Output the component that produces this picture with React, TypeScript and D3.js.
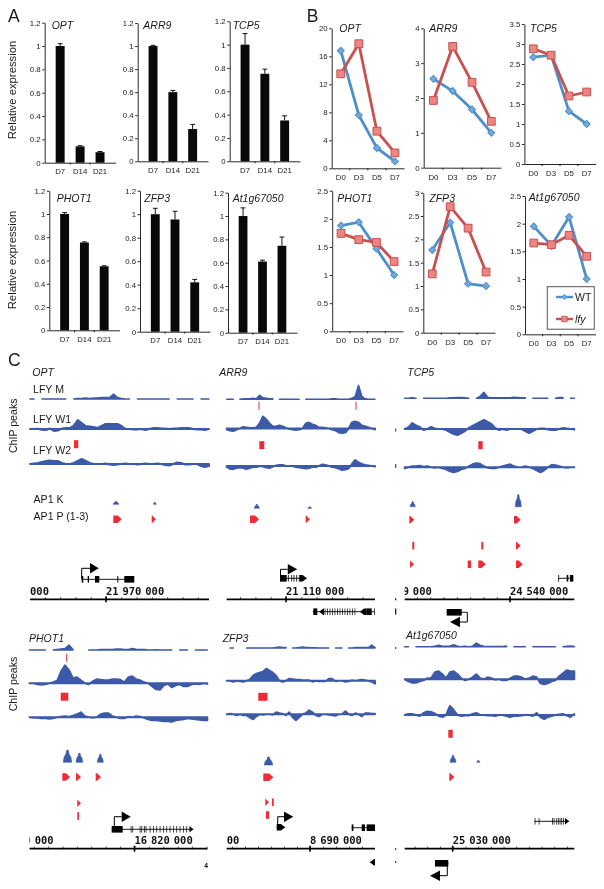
import * as d3 from "d3";
import { useEffect, useRef } from "react";

const WIDTH = 604;
const HEIGHT = 889;
const FONT = "'Liberation Sans', Arial, sans-serif";
const MONO = "'DejaVu Sans Mono', monospace";
const BLUE = "#3d5aa8";
const RED = "#ee2b36";
const WT_COLOR = "#4f8fc8";
const LFY_COLOR = "#c9504e";

// A: qPCR bars
const barDays = ["D7", "D14", "D21"];
const barTicks = [0, 0.2, 0.4, 0.6, 0.8, 1, 1.2];
const optBars = [1, 0.14, 0.09];
const optErr = [0.02, 0.006, 0.006];
const arr9Bars = [1, 0.6, 0.28];
const arr9Err = [0.006, 0.015, 0.04];
const tcp5Bars = [1, 0.75, 0.35];
const tcp5Err = [0.095, 0.04, 0.04];
const phot1Bars = [1, 0.755, 0.55];
const phot1Err = [0.012, 0.005, 0.005];
const zfp3Bars = [1, 0.955, 0.42];
const zfp3Err = [0.05, 0.07, 0.025];
const at1gBars = [1, 0.61, 0.745];
const at1gErr = [0.07, 0.012, 0.075];

// B: time course WT vs lfy
const lineDays = ["D0", "D3", "D5", "D7"];
const optWT = [16.8, 7.6, 2.9, 1];
const optLfy = [13.5, 17.8, 5.3, 2.2];
const arr9WT = [2.55, 2.2, 1.67, 1];
const arr9Lfy = [1.93, 3.48, 2.45, 1.33];
const tcp5WT = [2.67, 2.72, 1.32, 1];
const tcp5Lfy = [2.88, 2.72, 1.7, 1.8];
const phot1WT = [1.88, 1.94, 1.47, 1];
const phot1Lfy = [1.74, 1.63, 1.58, 1.24];
const zfp3WT = [1.77, 2.36, 1.05, 1];
const zfp3Lfy = [1.26, 2.7, 2.24, 1.3];
const at1gWT = [1.95, 1.6, 2.12, 1];
const at1gLfy = [1.65, 1.62, 1.79, 1.41];

// C: ChIP signal, 46 bins per window, null = no data
const optM = [0,0,null,0,0,0,0,0,0,0, null,0,.5,.5,1,.5,1,1,1.5,1.5, 1.5,5,1.5,.5,0,0,null,0,0,0, 0,0,0,0,0,0,null,0,0,0, 0,0,null,0,0,0];
const optW1 = [0,0,.3,-.8,-1,.5,-2,-1.5,.5,1, 1,3.5,9,6,3,2.5,2,1,3,5, 5,5,5,3,0,0,-.5,-.5,0,-1, 0,1,1,.5,.5,0,.5,.5,1,1, 1,0,-.5,-.5,-1,0];
const optW2 = [0,.5,1,2,3,3.5,3,3,1,0, 0,1,3,5,3,1,0,0,0,.5, -.5,-1,-.5,0,.5,0,0,-.5,0,.5, 0,0,.5,0,-1,-1.5,0,1.5,1,-.5, -.5,0,0,-2,-3,-2];
const arr9M = [0,0,0,null,0,.5,.5,.5,1,.5, 4,1.5,1,.5,.5,null,0,0,0,0, 0,0,0,null,0,0,0,0,0,0, 0,0,.5,.5,0,0,0,0,1,3, 14,3,.5,0,0,0];
const arr9W1 = [-1,-2,-2.5,-1,0,1.5,1,.5,.5,1, 5,12,9,5,2,2,3,2,.5,-.5, -1,-1.5,-1,0,5,6,4,3,1,1, .5,0,-1,-2,-4,-4.5,-4,0,6,7, 6,3,2,1,0,-1];
const arr9W2 = [-1,-3,-3,-2,-1.5,-2,-3,-2,-1,-1, 0,-.5,-1.5,-2,-.5,.5,1,1,0,0, 0,-1,-1.5,-2,-2.5,-2,-1,-1,0,1.5, 1,0,-1,-1.5,-2.5,-4,-3.5,-2.5,2,6, 3.5,2,1,.5,0,-.5];
const tcp5M = [0,0,.5,0,null,0,0,0,0,0, 0,0,.5,.5,.8,.8,.5,0,null,0, 2,6,1,.5,.5,.5,.5,.5,.5,1, .8,.5,.5,null,0,0,0,0,0,null, 0,.8,.8,null,0,0];
const tcp5W1 = [0,1.5,6,3.5,2,-1,0,2,.5,0, 0,-1,-3,-5,-6,-4,-2,1,3,5, 7,9,7,5,1,-1,0,-1,0,0, 0,0,-2,-4,-2,0,.5,.5,-.5,-1, -1,0,1,.5,0,-.5];
const tcp5W2 = [-1,0,1,1,1.5,.5,1,0,-.5,0, -1,-2,-4,-5,-4,-2,-1,1,3,4, 3.5,1,-.5,-1,-1,0,1,2,3,1, 0,0,1,0,-1,-3,-5,-3,0,2.5, 2,1,0,-.5,0,0];
const phot1M = [0,0,0,0,0,null,0,.5,1,1.5, 5,.5,null,null,null,0,0,0,.5,.5, .5,.5,1,1,.5,.5,1.5,.8,.5,.5, 0,0,.3,0,0,0,0,null,0,0, 0,null,0,0,0,0];
const phot1W1 = [0,0,-1,-1.5,-1,0,1,2.5,12,18, 13,5,6,3,0,-1,2,4,3.5,3, 3,4,4,3.5,1,6,7,4,3,1, 0,-3,-6,-6.5,-2,-.5,-4,-2,-1,-3, -3,-1,-.5,-1,0,-.5];
const phot1W2 = [0,-.5,-.5,-1,-1,-1.5,-1,0,.5,1, .5,1.5,3,5,1,0,-.5,0,3,4, 4,1,0,-1,-1,.5,0,1,.5,-.5, -2,-3,-3,-3.5,-4,-4,-4.5,-3,-2.5,-2, -1,-1.5,-2,-2.5,-3,-3];
const zfp3M = [null,0,0,null,null,null,0,0,0,0, 0,0,0,0,0,.5,1,.5,.5,null, 0,0,.5,1,.5,.5,.3,.3,0,0, 0,0,null,0,0,0,null,0,0,.5, .5,.5,.5,.5,3,.5];
const zfp3W1 = [0,0,-1,0,-.5,-1,0,1,5,7, 8,9,12,10,8,5,0,-1,0,2, 1.5,1,1,.5,.5,.5,-1,0,-.5,-.5, -.5,2,2,-.5,0,0,-1,-.5,.5,0, .5,1,.5,0,-1,-3];
const zfp3W2 = [0,.5,0,-1,0,-1,-1,-3,-5,-2, 0,-.5,0,0,-.5,2,1,.5,-1,2, -3,-6,-3,0,1,4,2,-1,-2,0, 0,-.5,-1,-1.5,0,0,3,0,-1,1, 0,-2,1,1,.5,.5];
const at1gM = [0,0,null,0,0,0,0,0,.5,1.5, .5,.5,.8,2,.5,0,.5,0,.5,3.5, 1.5,.5,.3,.3,.3,.3,.3,.8,null,0, 0,0,0,null,0,0,0,0,0,0, 0,null,0,.5,.8,.3];
const at1gW1 = [0,-2,-3.5,-3.5,-2,-1,1,1,7,8, 5,1,7,8,5,1,-1,0,2,5, 1,0,2,1,-.5,0,-1,-1,1,3, 3,2,0,1,3,2,-4,-5,-4,-2, -1,3,6,9,8,8];
const at1gW2 = [0,1,1,0,-1,2,3.5,3,1.5,-1, -2,0,9,5,0,-1,-.5,-.5,1,2, 0,0,-.5,-.5,-1,0,0,-1,-2,-1, -1,-.5,0,0,-1,2,-2,-4,-2,-1, 0,.5,1,-.5,-2,1];

// bound regions, [start, end] along each window
const optPeaks = [[44, 48.3]];
const arr9Peaks = [[32.6, 37.6]];
const tcp5Peaks = [[73.6, 78]];
const phot1Peaks = [[31.2, 38.8]];
const zfp3Peaks = [[31.6, 40.6]];
const at1gPeaks = [[43.6, 48]];
const arr9Summits = [32.3, 129.3];
const phot1Summits = [37.2];

// AP1 K, [start, end, height]
const optK = [[83.3, 88.7, 3], [123.3, 126.3, 2]];
const arr9K = [[27.6, 32.6, 4], [81, 85, 1.5]];
const tcp5K = [[5.5, 10.5, 5], [110.6, 116.6, 12]];
const phot1K = [[33.8, 42.2, 12], [46.5, 53.2, 9], [67.8, 73.8, 8]];
const zfp3K = [[37.6, 46, 8]];
const at1gK = [[45.3, 51.3, 7], [72, 75.3, 2]];

// AP1 P (1-3), [start, end, isBar]
const optP = [[[83.3, 91.7], [121.7, 126]]];
const arr9P = [[[23.3, 32.3], [79, 83.3]]];
const tcp5P = [
  [[4.6, 9.6], [109.3, 116]],
  [[7.6, 9.6, 1], [76.6, 78.6, 1], [111.3, 116]],
  [[5.3, 9.3], [63, 66.3, 1], [73.6, 81], [111.3, 118]],
];
const phot1P = [
  [[32.8, 40.5], [46.5, 51.5], [66.2, 71.5]],
  [[47.8, 51.5]],
  [[47.8, 49.5, 1]],
];
const zfp3P = [
  [[36.6, 46.6]],
  [[38.6, 42.3], [45.3, 47, 1]],
  [[39.3, 42.3, 1]],
];
const at1gP = [[[44.6, 49.6]]];

// gene models along each window
const optGenes = [
  { span: [51.7, 103.3], exons: [[51.7, 53.3], [57.7, 59], [65, 69.3], [87.3, 88.3], [94.3, 104.3]], row: 579.3, tss: { at: 51.7, rise: 11, stem: 8.3, head: 8.7, dir: 1 } },
];
const arr9Genes = [
  { span: [53.3, 80], exons: [[53.3, 60], [61.2, 62], [64.6, 65.4], [66.9, 67.7], [69.6, 70.4], [72.2, 73]], tip: [73, 80, 1], row: 578.3, tss: { at: 53.8, rise: 9, stem: 7.3, head: 9.4, dir: 1 } },
  { span: [86, 148], exons: [[86.6, 90.6], [98, 98.7], [100.4, 101.1], [102.9, 103.6], [105.4, 106.1], [107.9, 108.6], [110.4, 111.1], [112.9, 113.6], [115.4, 116.1], [117.9, 118.6], [120.4, 121.1], [122.9, 123.6], [125.4, 126.1], [127.9, 128.6], [140, 145], [147.6, 148.3]], tip: [97.3, 92.6, -1], tip2: [140, 133.3, -1], row: 611.7 },
];
const tcp5Genes = [
  { span: [153.6, 168.6], exons: [[153.6, 154.4], [162, 163.6], [165.3, 168.6]], row: 578.3 },
  { span: [42, 62.6], exons: [[42, 57]], row: 612.3, tss: { at: 62.6, rise: -9.7, stem: 7.3, head: 10, dir: -1 } },
];
const phot1Genes = [
  { span: [82.2, 163.8], exons: [[82.2, 93.2], [101.2, 101.9], [102.9, 103.6], [110.2, 110.9], [111.9, 112.6], [114.4, 115.2], [116.2, 116.9], [120.2, 120.9], [123.5, 124.2], [126.9, 127.6], [130.2, 130.9], [133.5, 134.2], [136.9, 137.6], [140.2, 140.9], [143.5, 144.2], [146.9, 147.6], [150.2, 150.9], [153.5, 154.2], [156.9, 157.6]], tip: [160, 163.8, 1], row: 829.3, tss: { at: 84.8, rise: 12.6, stem: 7.4, head: 9, dir: 1 } },
];
const zfp3Genes = [
  { span: [50, 58.3], exons: [], tip: [50, 58.3, 1], row: 827.3, tss: { at: 51, rise: 10.6, stem: 6.3, head: 9.3, dir: 1 } },
  { span: [125, 148.3], exons: [[125, 126.7], [135, 138.3], [140, 148.3]], row: 827.7 },
  { span: [143.3, 148.3], exons: [], tip: [148.3, 143.3, -1], row: 862.3 },
];
const at1gGenes = [
  { span: [129.6, 164.3], exons: [[130, 130.7], [134, 134.7], [147.3, 148], [149, 149.7], [151.7, 152.4], [153.3, 154], [155, 155.7], [156.7, 157.4], [158.3, 159]], tip: [160.3, 164.3, 1], row: 821.3 },
  { span: [30.3, 43.6], exons: [[30.3, 43.6]], row: 863.3, tss: { at: 42.6, rise: -12.4, stem: 7.3, head: 10, dir: -1 } },
];

// panel layout tables
const barPanels = [
  { name: "OPT", x: [44.7, 115.5], y: [162.7, 22.7], nameAt: [51.7, 29.3], values: optBars, err: optErr },
  { name: "ARR9", x: [137.7, 208], y: [161.3, 23], nameAt: [143.3, 29.3], values: arr9Bars, err: arr9Err },
  { name: "TCP5", x: [229.7, 300], y: [161.3, 21.3], nameAt: [232.7, 29.3], values: tcp5Bars, err: tcp5Err },
  { name: "PHOT1", x: [49.3, 119.5], y: [330.3, 190.7], nameAt: [56.7, 201.7], values: phot1Bars, err: phot1Err },
  { name: "ZFP3", x: [140, 210], y: [331.7, 190.7], nameAt: [144.3, 201.7], values: zfp3Bars, err: zfp3Err },
  { name: "At1g67050", x: [228, 297], y: [332.7, 192.7], nameAt: [232.7, 201.7], values: at1gBars, err: at1gErr },
];

const linePanels = [
  { name: "OPT", x: [331.7, 404], y: [168.3, 28.3], max: 20, ticks: [0, 4, 8, 12, 16, 20], nameAt: [339.3, 32.3], wt: optWT, lfy: optLfy },
  { name: "ARR9", x: [423.7, 501], y: [167.7, 28.3], max: 4, ticks: [0, 1, 2, 3, 4], nameAt: [429.3, 32.3], wt: arr9WT, lfy: arr9Lfy },
  { name: "TCP5", x: [524.4, 595.6], y: [164, 24], max: 3.5, ticks: [0, 0.5, 1, 1.5, 2, 2.5, 3, 3.5], nameAt: [530, 32.3], wt: tcp5WT, lfy: tcp5Lfy },
  { name: "PHOT1", x: [332.2, 403], y: [331.3, 190.7], max: 2.5, ticks: [0, 0.5, 1, 1.5, 2, 2.5], nameAt: [337.3, 201.7], wt: phot1WT, lfy: phot1Lfy },
  { name: "ZFP3", x: [423.3, 495], y: [332.7, 192.7], max: 3, ticks: [0, 0.5, 1, 1.5, 2, 2.5, 3], nameAt: [429.3, 201.7], wt: zfp3WT, lfy: zfp3Lfy },
  { name: "At1g67050", x: [525, 595.5], y: [334.3, 196], max: 2.5, ticks: [0, 0.5, 1, 1.5, 2, 2.5], nameAt: [528.7, 200.7], wt: at1gWT, lfy: at1gLfy },
];

const genomePanels = [
  { name: "OPT", x: [30, 209], nameAt: [32.3, 376], tracks: [[399, optM], [429, optW1], [464, optW2]], peaks: optPeaks, peakY: 444.2, summits: [], kBase: 504.3, k: optK, p: optP, pRows: [519.3, 545.7, 564.3], genes: optGenes, axisY: 599.3, major: 76, step: 15.3, labels: [[76, "21 970 000"], [0, "000"]] },
  { name: "ARR9", x: [226.7, 375], nameAt: [219.3, 376], tracks: [[399.3, arr9M], [428.5, arr9W1], [466, arr9W2]], peaks: arr9Peaks, peakY: 445.2, summits: arr9Summits, summitY: 405.8, kBase: 508.3, k: arr9K, p: arr9P, pRows: [519.3, 545.7, 564.3], genes: arr9Genes, axisY: 599.3, major: 59.3, step: 15.3, labels: [[59.3, "21 110 000"]] },
  { name: "TCP5", x: [404.7, 574.3], nameAt: [407.3, 376], tracks: [[398.3, tcp5M], [429, tcp5W1], [467.3, tcp5W2]], peaks: tcp5Peaks, peakY: 445.2, summits: [], kBase: 506.7, k: tcp5K, p: tcp5P, pRows: [519.7, 545.7, 564.3], genes: tcp5Genes, axisY: 599.3, major: 105.3, step: 13.3, labels: [[105.3, "24 540 000"], [-2, "9 000"]] },
  { name: "PHOT1", x: [29.5, 207.3], nameAt: [29, 642], tracks: [[650, phot1M], [683.3, phot1W1], [717.3, phot1W2]], peaks: phot1Peaks, peakY: 696.7, summits: phot1Summits, summitY: 657.8, kBase: 762.3, k: phot1K, p: phot1P, pRows: [777, 803.3, 816], genes: phot1Genes, axisY: 848.7, major: 105, step: 14.4, labels: [[105, "16 820 000"], [-5, "0 000"]] },
  { name: "ZFP3", x: [226.7, 375], nameAt: [222.7, 642], tracks: [[648, zfp3M], [680.7, zfp3W1], [714.3, zfp3W2]], peaks: zfp3Peaks, peakY: 696.8, summits: [], kBase: 765, k: zfp3K, p: zfp3P, pRows: [777.3, 802.3, 815], genes: zfp3Genes, axisY: 848.7, major: 83.3, step: 13, labels: [[83.3, "8 690 000"], [0, "00"]] },
  { name: "At1g67050", x: [404.7, 574.3], nameAt: [406, 639], tracks: [[646.7, at1gM], [679.3, at1gW1], [715, at1gW2]], peaks: at1gPeaks, peakY: 733.8, summits: [], kBase: 762.3, k: at1gK, p: at1gP, pRows: [777, 803, 816], genes: at1gGenes, axisY: 848.7, major: 48, step: 12.7, labels: [[48, "25 030 000"]] },
];

const trackLabels = [
  ["LFY M", 33, 393],
  ["LFY W1", 33, 422.7],
  ["LFY W2", 33, 454],
  ["AP1 K", 33.5, 503.3],
  ["AP1 P (1-3)", 33.5, 520],
];

// tiny clipped bits of the neighbouring window
const edgeSpecks = [[430, 3], [466, 4], [599.3, 2], [611.5, 6], [648, 1.5], [849, 1.5], [862, 1.5]];

type Sel = d3.Selection<any, unknown, null, undefined>;

function addText(g: Sel, s: string, x: number, y: number, size: number, italic = false) {
  return g
    .append("text")
    .attr("x", x)
    .attr("y", y)
    .attr("font-family", FONT)
    .attr("font-size", size)
    .attr("font-style", italic ? "italic" : "normal")
    .attr("fill", "#1a1a1a")
    .text(s);
}

function styleAxis(g: Sel) {
  g.selectAll("text").attr("font-family", FONT).attr("font-size", 7.8).attr("fill", "#222");
  g.selectAll("path,line").attr("stroke", "#111").attr("stroke-width", 0.9);
}

function drawBars(svg: Sel) {
  barPanels.forEach((p) => {
    const x = d3.scaleBand().domain(barDays).range(p.x as [number, number]).padding(0.55);
    const y = d3.scaleLinear().domain([0, 1.2]).range(p.y as [number, number]);
    const g = svg.append("g");

    p.values.forEach((v, i) => {
      const cx = x(barDays[i])! + x.bandwidth() / 2;
      const top = y(v + p.err[i]);
      g.append("path")
        .attr("d", `M${cx},${y(v)}V${top}M${cx - 2.4},${top}H${cx + 2.4}`)
        .attr("stroke", "#111")
        .attr("fill", "none");
      g.append("rect")
        .attr("x", x(barDays[i])!)
        .attr("y", y(v))
        .attr("width", x.bandwidth())
        .attr("height", y(0) - y(v))
        .attr("fill", "#080808");
    });

    const yAxis = d3.axisLeft(y).tickValues(barTicks).tickFormat(d3.format("~g") as any).tickSize(2.5).tickPadding(1.5).tickSizeOuter(0);
    g.append("g").attr("transform", `translate(${p.x[0]},0)`).call(yAxis).call(styleAxis);
    const xAxis = d3.axisBottom(x).tickSize(0).tickPadding(6);
    g.append("g").attr("transform", `translate(0,${p.y[0]})`).call(xAxis).call(styleAxis);
    // small marks between the categories
    barDays.slice(1).forEach((d) => {
      const bx = x(d)! - (x.step() - x.bandwidth()) / 2;
      g.append("line").attr("x1", bx).attr("x2", bx).attr("y1", p.y[0]).attr("y2", p.y[0] + 2).attr("stroke", "#111").attr("stroke-width", 0.9);
    });

    addText(g, p.name, p.nameAt[0], p.nameAt[1], 10.5, true);
  });
}

function drawLines(svg: Sel) {
  linePanels.forEach((p) => {
    const x = d3.scaleBand().domain(lineDays).range(p.x as [number, number]);
    const y = d3.scaleLinear().domain([0, p.max]).range(p.y as [number, number]);
    const g = svg.append("g");
    const cx = (d: string) => x(d)! + x.bandwidth() / 2;

    const yAxis = d3.axisLeft(y).tickValues(p.ticks).tickFormat(d3.format("~g") as any).tickSize(2.5).tickPadding(1.5).tickSizeOuter(0);
    g.append("g").attr("transform", `translate(${p.x[0]},0)`).call(yAxis).call(styleAxis);
    const xAxis = d3.axisBottom(x).tickSize(0).tickPadding(6.5);
    g.append("g").attr("transform", `translate(0,${p.y[0]})`).call(xAxis).call(styleAxis);
    lineDays.slice(1).forEach((d) => {
      g.append("line").attr("x1", x(d)!).attr("x2", x(d)!).attr("y1", p.y[0]).attr("y2", p.y[0] + 2).attr("stroke", "#111").attr("stroke-width", 0.9);
    });

    const line = d3.line<number>().x((_, i) => cx(lineDays[i])).y((v) => y(v));
    // WT is a square turned 45 degrees, the plain d3 diamond is too narrow
    const series = [
      { values: p.wt, color: WT_COLOR, fill: "#74a9dc", size: 24, turn: 45 },
      { values: p.lfy, color: LFY_COLOR, fill: "#ea8583", size: 60, turn: 0 },
    ];
    series.forEach((s) => {
      g.append("path").attr("d", line(s.values)).attr("fill", "none").attr("stroke", s.color).attr("stroke-width", 2.8);
      g.selectAll(null)
        .data(s.values)
        .join("path")
        .attr("d", d3.symbol().type(d3.symbolSquare).size(s.size)() as string)
        .attr("transform", (v, i) => `translate(${cx(lineDays[i])},${y(v as number)}) rotate(${s.turn})`)
        .attr("fill", s.fill)
        .attr("stroke", s.color)
        .attr("stroke-width", 1);
    });

    addText(g, p.name, p.nameAt[0], p.nameAt[1], 10.5, true);
  });
}

function drawLegend(svg: Sel) {
  const g = svg.append("g");
  g.append("rect").attr("x", 547.3).attr("y", 286.7).attr("width", 47).attr("height", 42.5).attr("fill", "#fff").attr("stroke", "#555").attr("stroke-width", 1);
  const items = [
    { label: "WT", y: 297, color: WT_COLOR, fill: "#74a9dc", size: 14, turn: 45, italic: false },
    { label: "lfy", y: 319, color: LFY_COLOR, fill: "#ea8583", size: 30, turn: 0, italic: true },
  ];
  items.forEach((it) => {
    g.append("line").attr("x1", 556).attr("x2", 573).attr("y1", it.y).attr("y2", it.y).attr("stroke", it.color).attr("stroke-width", 2.4);
    g.append("path").attr("d", d3.symbol().type(d3.symbolSquare).size(it.size)() as string).attr("transform", `translate(564.5,${it.y}) rotate(${it.turn})`).attr("fill", it.fill).attr("stroke", it.color).attr("stroke-width", 0.8);
    addText(g, it.label, 575, it.y + 4, 10.5, it.italic);
  });
}

// rectangle ending in a point, used for AP1 P calls and gene ends
function pointedPath(x0: number, x1: number, y: number, h: number) {
  const dir = x1 >= x0 ? 1 : -1;
  const tipLen = Math.min(Math.abs(x1 - x0), 4) * dir;
  const pts: [number, number][] = [
    [x0, y - h / 2],
    [x1 - tipLen, y - h / 2],
    [x1, y],
    [x1 - tipLen, y + h / 2],
    [x0, y + h / 2],
  ];
  return d3.line()(pts) + "Z";
}

function drawGene(g: Sel, x: d3.ScaleLinear<number, number>, gene: any) {
  const y = gene.row;
  g.append("line").attr("x1", x(gene.span[0])).attr("x2", x(gene.span[1])).attr("y1", y).attr("y2", y).attr("stroke", "#000").attr("stroke-width", 0.9);
  gene.exons.forEach((e: number[]) => {
    g.append("rect").attr("x", x(e[0])).attr("y", y - 3.3).attr("width", x(e[1]) - x(e[0])).attr("height", 6.6).attr("fill", "#000");
  });
  [gene.tip, gene.tip2].filter(Boolean).forEach((t: number[]) => {
    g.append("path").attr("d", pointedPath(x(t[0]), x(t[1]), y, 6.6)).attr("fill", "#000");
  });
  if (gene.tss) {
    const t = gene.tss;
    const top = y - t.rise;
    const bendEnd = x(t.at) + t.dir * t.stem;
    g.append("path").attr("d", `M${x(t.at)},${y}V${top}H${bendEnd}`).attr("fill", "none").attr("stroke", "#000").attr("stroke-width", 1);
    g.append("path").attr("d", d3.line()([[bendEnd, top - 5.2], [bendEnd + t.dir * t.head, top], [bendEnd, top + 5.2]]) + "Z").attr("fill", "#000");
  }
}

function drawGenome(svg: Sel) {
  const defs = svg.append("defs");
  genomePanels.forEach((p, pi) => {
    const len = p.x[1] - p.x[0];
    const x = d3.scaleLinear().domain([0, len]).range(p.x as [number, number]);
    const g = svg.append("g");

    addText(g, p.name, p.nameAt[0], p.nameAt[1], 10.5, true);

    // ChIP coverage tracks, one unit = one pixel above the baseline
    p.tracks.forEach(([base, sig]: any, ti) => {
      const y = d3.scaleLinear().domain([0, 10]).range([base, base - 10]);
      const bin = d3.scaleLinear().domain([0, sig.length - 1]).range([0, len]);
      const area = d3
        .area<number | null>()
        .defined((v) => v !== null)
        .x((_, i) => x(bin(i)))
        .y0(y(0))
        .y1((v) => y(v as number));
      g.append("path")
        .attr("d", area(sig))
        .attr("fill", BLUE)
        .attr("stroke", BLUE)
        .attr("stroke-width", ti === 0 ? 1.5 : 2)
        .attr("stroke-linejoin", "round");
    });

    p.peaks.forEach((r) => {
      g.append("rect").attr("x", x(r[0])).attr("y", p.peakY - 4).attr("width", x(r[1]) - x(r[0])).attr("height", 8).attr("fill", RED);
    });
    p.summits.forEach((s) => {
      g.append("rect").attr("x", x(s) - 0.5).attr("y", (p.summitY as number) - 4).attr("width", 1).attr("height", 8).attr("fill", RED);
    });

    // AP1 K bumps
    p.k.forEach(([s, e, h]) => {
      const w = e - s;
      const profile: [number, number][] = [[s, 0], [s + w * 0.1, h * 0.45], [s + w * 0.32, h * 0.7], [s + w * 0.4, h], [s + w * 0.6, h], [s + w * 0.68, h * 0.7], [s + w * 0.9, h * 0.45], [e, 0]];
      const area = d3.area<[number, number]>().x((d) => x(d[0])).y0(p.kBase).y1((d) => p.kBase - d[1]);
      g.append("path").attr("d", area(profile)).attr("fill", BLUE).attr("stroke", BLUE).attr("stroke-width", 0.6);
    });

    // AP1 P calls
    p.p.forEach((row, ri) => {
      (row as number[][]).forEach((c) => {
        const cy = p.pRows[ri];
        if (c[2]) {
          g.append("rect").attr("x", x(c[0])).attr("y", cy - 3.8).attr("width", x(c[1]) - x(c[0])).attr("height", 7.6).attr("fill", RED);
        } else {
          g.append("path").attr("d", pointedPath(x(c[0]), x(c[1]), cy, 7.4)).attr("fill", RED);
        }
      });
    });

    p.genes.forEach((gene) => drawGene(g, x, gene));

    // coordinate ruler
    const clipId = `clip-${pi}`;
    defs.append("clipPath").attr("id", clipId).append("rect").attr("x", p.x[0]).attr("y", 0).attr("width", len).attr("height", HEIGHT);
    const minor = d3.range(p.major % p.step, len, p.step);
    const axis = d3.axisBottom(x).tickValues(minor).tickSize(3).tickFormat(() => "");
    const ag = g.append("g").attr("transform", `translate(0,${p.axisY - 2.2})`).call(axis);
    ag.select(".domain").remove();
    ag.selectAll("line").attr("stroke", "#333").attr("stroke-width", 0.8);
    g.append("line").attr("x1", p.x[0]).attr("x2", p.x[1]).attr("y1", p.axisY).attr("y2", p.axisY).attr("stroke", "#000").attr("stroke-width", 1.7);
    g.append("rect").attr("x", x(p.major) - 0.8).attr("y", p.axisY - 3).attr("width", 1.6).attr("height", 6).attr("fill", "#000");
    p.labels.forEach(([pos, txt]: any) => {
      g.append("text")
        .attr("x", x(pos))
        .attr("y", p.axisY - 4.7)
        .attr("clip-path", `url(#${clipId})`)
        .attr("font-family", MONO)
        .attr("font-weight", "bold")
        .attr("font-size", 10.5)
        .attr("word-spacing", -2.5)
        .attr("fill", "#111")
        .text(txt);
    });
  });

  edgeSpecks.forEach(([y, h]) => {
    svg.append("rect").attr("x", 395).attr("y", y - h / 2).attr("width", 1.3).attr("height", h).attr("fill", y > 590 ? "#222" : BLUE);
  });
  svg.append("text").attr("x", 204).attr("y", 868).attr("font-family", MONO).attr("font-weight", "bold").attr("font-size", 7).attr("fill", "#222").text("4");
}

export default function App() {
  const ref = useRef<SVGSVGElement>(null);

  useEffect(() => {
    const svg = d3.select(ref.current) as unknown as Sel;
    svg.selectAll("*").remove();

    drawBars(svg);
    drawLines(svg);
    drawLegend(svg);
    drawGenome(svg);

    addText(svg, "A", 8, 21.7, 17.5);
    addText(svg, "B", 306.7, 21.7, 17.5);
    addText(svg, "C", 8, 366, 17.5);

    trackLabels.forEach(([s, x, y]) => addText(svg, s as string, x as number, y as number, 10.6));

    const rotated = [
      ["Relative expression", 15.7, 90, 11.3],
      ["Relative expression", 16, 260, 11.3],
      ["ChIP peaks", 17, 425.8, 10.6],
      ["ChIP peaks", 17, 684, 10.6],
    ];
    rotated.forEach(([s, x, y, size]) => {
      addText(svg, s as string, 0, 0, size as number)
        .attr("text-anchor", "middle")
        .attr("transform", `translate(${x},${y}) rotate(-90)`);
    });
  }, []);

  return (
    <svg
      ref={ref}
      width={WIDTH}
      height={HEIGHT}
      style={{ position: "absolute", left: 0, top: 0, background: "#fff", filter: "blur(0.3px)" }}
    />
  );
}
